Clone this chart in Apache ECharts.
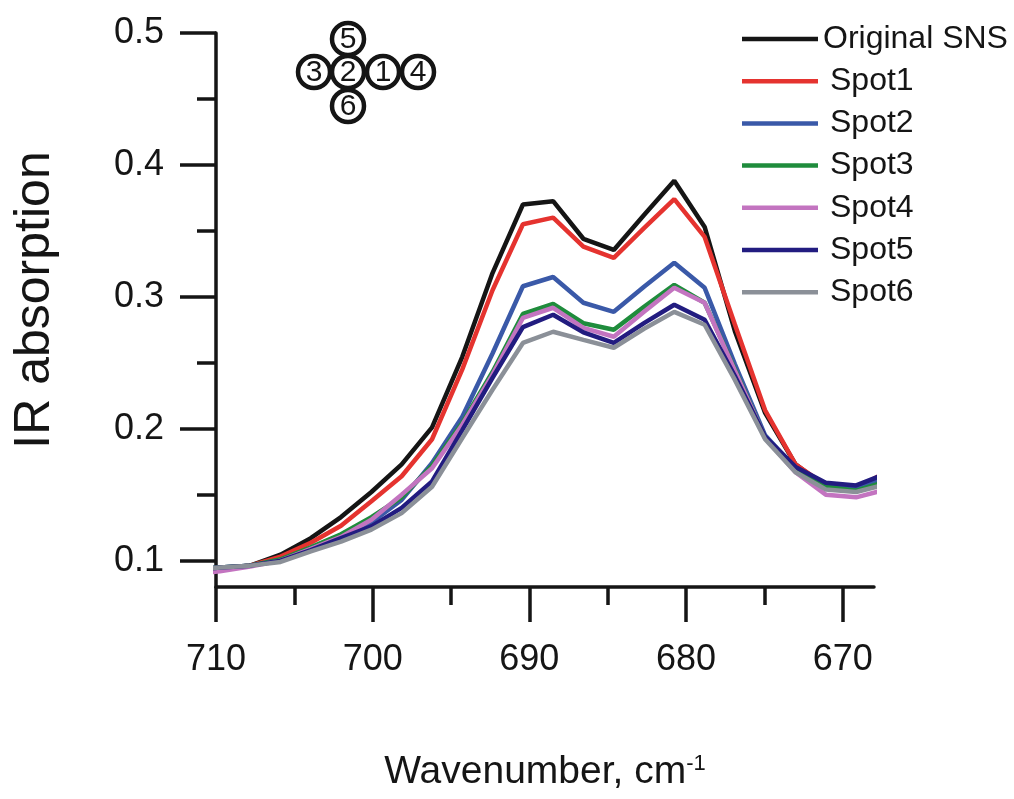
<!DOCTYPE html>
<html>
<head>
<meta charset="utf-8">
<script src="https://cdn.jsdelivr.net/npm/echarts@6/dist/echarts.min.js"></script>
<style>
  html, body { margin: 0; padding: 0; background: #fff; }
  #eChart { width: 1014px; height: 799px; }
</style>
</head>
<body>
<div id="eChart"></div>
<script>
var FONT = '"Liberation Sans", Arial, sans-serif';

// wavenumber grid, cm-1 (descending)
var wavenumbers = [711.69, 709.75, 707.82, 705.88, 703.95, 702.02, 700.08, 698.15,
  696.21, 694.28, 692.35, 690.41, 688.48, 686.55, 684.61, 682.68, 680.75, 678.81,
  676.88, 674.95, 673.01, 671.08, 669.14, 667.21];

var originalSNS = [0.091, 0.0945, 0.0962, 0.1045, 0.117, 0.133, 0.152, 0.173,
  0.201, 0.2545, 0.318, 0.370, 0.3725, 0.344, 0.3355, 0.362, 0.388, 0.353,
  0.274, 0.212, 0.173, 0.156, 0.155, 0.165];
var spot1 = [0.091, 0.0945, 0.0962, 0.103, 0.1136, 0.1265, 0.145, 0.164,
  0.192, 0.245, 0.305, 0.355, 0.360, 0.338, 0.3295, 0.352, 0.374, 0.3454,
  0.279, 0.214, 0.173, 0.157, 0.155, 0.167];
var spot2 = [0.093, 0.0947, 0.0962, 0.100, 0.109, 0.118, 0.129, 0.146,
  0.174, 0.209, 0.257, 0.308, 0.315, 0.2955, 0.2886, 0.3076, 0.3258, 0.3068,
  0.249, 0.195, 0.170, 0.157, 0.155, 0.163];
var spot3 = [0.093, 0.0947, 0.0962, 0.101, 0.110, 0.120, 0.133, 0.148,
  0.172, 0.2045, 0.243, 0.287, 0.2947, 0.280, 0.275, 0.2924, 0.309, 0.2955,
  0.245, 0.193, 0.169, 0.156, 0.153, 0.160];
var spot4 = [0.089, 0.092, 0.0955, 0.100, 0.109, 0.118, 0.131, 0.150,
  0.170, 0.203, 0.241, 0.284, 0.2917, 0.2765, 0.2697, 0.2886, 0.3068, 0.2955,
  0.244, 0.193, 0.167, 0.150, 0.148, 0.154];
var spot5 = [0.093, 0.0947, 0.0962, 0.100, 0.108, 0.117, 0.126, 0.140,
  0.160, 0.199, 0.2386, 0.277, 0.2864, 0.273, 0.265, 0.280, 0.294, 0.2826,
  0.240, 0.194, 0.171, 0.159, 0.157, 0.166];
var spot6 = [0.093, 0.0947, 0.0962, 0.099, 0.107, 0.1144, 0.1235, 0.136,
  0.156, 0.193, 0.2295, 0.265, 0.2735, 0.2674, 0.2614, 0.2758, 0.2886, 0.2788,
  0.237, 0.192, 0.167, 0.154, 0.152, 0.158];

var seriesNames = ['Original SNS', 'Spot1', 'Spot2', 'Spot3', 'Spot4', 'Spot5', 'Spot6'];
var seriesValues = [originalSNS, spot1, spot2, spot3, spot4, spot5, spot6];
var seriesColors = ['#151515', '#e5332f', '#3a59a8', '#1f8c3c', '#c374c0', '#221c80', '#8b9098'];

var xMajor = [670, 680, 690, 700, 710];
var xMinor = [675, 685, 695, 705];
var yMajor = [0.1, 0.2, 0.3, 0.4, 0.5];
var yMinor = [0.15, 0.25, 0.35, 0.45];

// spot layout sketch (numbers in circles)
var spotLabels = ['5', '3', '2', '1', '4', '6'];

function pairs(values) {
  return values.map(function (v, i) { return [wavenumbers[i], v]; });
}

function drawChart() {
  var mainChart = echarts.init(document.getElementById('eChart'));

  var axisColor = '#151515';
  var series = seriesNames.map(function (name, i) {
    return {
      name: name,
      type: 'line',
      symbol: 'none',
      xAxisIndex: 0,
      yAxisIndex: 0,
      lineStyle: { color: seriesColors[i], width: 4.5 },
      itemStyle: { color: seriesColors[i] },
      data: pairs(seriesValues[i])
    };
  });

  var legendData = seriesNames.map(function (name, i) {
    return {
      name: name,
      textStyle: { padding: [0, 0, 0, i === 0 ? 0 : 7] }
    };
  });

  // circle sketch offsets, relative to circle "2"
  var offs = [[0, -33], [-34, 0], [0, 0], [35, 0], [70, 0], [0, 34]];
  var graphics = [];
  spotLabels.forEach(function (t, i) {
    graphics.push({
      type: 'circle',
      shape: { cx: 348 + offs[i][0], cy: 72 + offs[i][1], r: 16 },
      style: { fill: '#fff', stroke: axisColor, lineWidth: 4.5 },
      z: 10
    });
    graphics.push({
      type: 'text',
      x: 348 + offs[i][0], y: 73 + offs[i][1],
      style: { text: t, fontSize: 30, fontFamily: FONT, fill: axisColor, align: 'center', verticalAlign: 'middle' },
      z: 11
    });
  });

  var option = {
    animation: false,
    backgroundColor: '#fff',
    textStyle: { fontFamily: FONT },
    grid: { left: 216, right: 140, top: 33, bottom: 212 },
    legend: {
      orient: 'vertical',
      left: 737,
      top: 18,
      icon: 'rect',
      itemWidth: 76,
      itemHeight: 4.5,
      itemGap: 10.2,
      data: legendData,
      textStyle: { fontSize: 32, fontFamily: FONT, color: '#151515' }
    },
    xAxis: [
      {
        type: 'value', inverse: true, min: 668, max: 710, position: 'bottom',
        axisLine: { lineStyle: { color: axisColor, width: 3.5 } },
        axisTick: { customValues: xMajor, length: 35, lineStyle: { color: axisColor, width: 3.5 } },
        axisLabel: { customValues: xMajor, fontSize: 36, color: '#151515', margin: 55, fontFamily: FONT },
        splitLine: { show: false },
        name: '{a|Wavenumber, cm}{s|-1}',
        nameLocation: 'middle',
        nameGap: 166,
        nameTextStyle: {
          rich: {
            a: { fontSize: 39, color: '#151515', fontFamily: FONT },
            s: { fontSize: 22, color: '#151515', fontFamily: FONT, verticalAlign: 'top' }
          }
        }
      },
      {
        type: 'value', inverse: true, min: 668, max: 710, position: 'bottom',
        axisLine: { show: false },
        axisTick: { customValues: xMinor, length: 18, lineStyle: { color: axisColor, width: 3.5 } },
        axisLabel: { show: false },
        splitLine: { show: false }
      }
    ],
    yAxis: [
      {
        type: 'value', min: 0.08, max: 0.5, position: 'left',
        axisLine: { show: true, lineStyle: { color: axisColor, width: 3.5 } },
        axisTick: { show: true, customValues: yMajor, length: 36, lineStyle: { color: axisColor, width: 3.5 } },
        axisLabel: { customValues: yMajor, fontSize: 36, color: '#151515', margin: 52, fontFamily: FONT },
        splitLine: { show: false },
        name: 'IR absorption',
        nameLocation: 'middle',
        nameGap: 156,
        nameTextStyle: { fontSize: 50, color: '#151515', fontFamily: FONT, padding: [0, 0, 0, 20] }
      },
      {
        type: 'value', min: 0.08, max: 0.5, position: 'left',
        axisLine: { show: false },
        axisTick: { show: true, customValues: yMinor, length: 19, lineStyle: { color: axisColor, width: 3.5 } },
        axisLabel: { show: false },
        splitLine: { show: false }
      }
    ],
    graphic: graphics,
    series: series
  };

  mainChart.setOption(option);
}

drawChart();
</script>
</body>
</html>
